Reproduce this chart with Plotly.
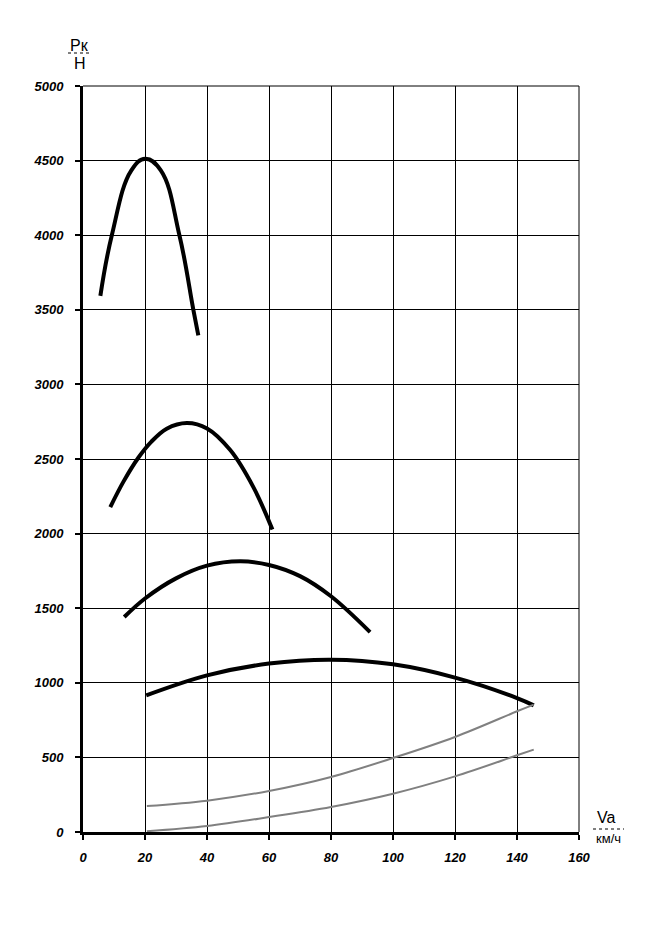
import plotly.graph_objects as go

# Traction force curves (gears 1..4), Pк in N vs Va in km/h
g1_x = [5.6, 9.3, 15.6, 20.1, 25.1, 31.1, 35.6, 37.2]
g1_y = [3593, 4000, 4435, 4513, 4435, 4000, 3500, 3329]

g2_x = [8.8, 13.1, 17.9, 22.0, 27.0, 33.5, 40.0, 47.5, 55.0, 61.1]
g2_y = [2178, 2350, 2510, 2615, 2703, 2741, 2705, 2560, 2310, 2027]

g3_x = [13.3, 20, 30, 40, 50.7, 60, 70, 80, 92.6]
g3_y = [1441, 1565, 1700, 1785, 1814, 1790, 1715, 1580, 1340]

g4_x = [20.4, 40, 60, 80, 100, 120, 140, 145.4]
g4_y = [916, 1050, 1129, 1155, 1124, 1035, 898, 849]

# Resistance curves (gray)
r1_x = [20.6, 40, 60, 80, 100, 120, 140, 145.4]
r1_y = [174, 210, 275, 369, 496, 637, 809, 854]

r2_x = [20.6, 40, 60, 80, 100, 120, 140, 145.4]
r2_y = [5, 40, 100, 168, 257, 373, 514, 552]

x_ticks = [0, 20, 40, 60, 80, 100, 120, 140, 160]
y_ticks = [0, 500, 1000, 1500, 2000, 2500, 3000, 3500, 4000, 4500, 5000]

# page is rendered with an 8px body margin
OFF = 8
W, H = 651 - OFF, 933 - OFF
L, R, T, B = 83, 579, 86, 832  # plot area in page pixels


def px(xp):
    return (xp - L) / (R - L)


def py(yp):
    return (B - yp) / (B - T)


FONT = "Arial, Liberation Sans, sans-serif"

fig = go.Figure()
for i, (xs, ys) in enumerate([(g1_x, g1_y), (g2_x, g2_y), (g3_x, g3_y), (g4_x, g4_y)]):
    fig.add_trace(go.Scatter(x=xs, y=ys, mode="lines",
                             line=dict(color="black", width=4, shape="spline",
                                       smoothing=1.2 if i == 0 else 1.0),
                             showlegend=False, hoverinfo="skip"))
for xs, ys in [(r1_x, r1_y), (r2_x, r2_y)]:
    fig.add_trace(go.Scatter(x=xs, y=ys, mode="lines",
                             line=dict(color="#808080", width=2, shape="spline", smoothing=1.0),
                             showlegend=False, hoverinfo="skip"))

tickfont = dict(family=FONT, size=13, color="black")
fig.update_xaxes(range=[0, 160], tickvals=x_ticks, ticktext=[f"<b><i>{v}</i></b>" for v in x_ticks],
                 showgrid=True, gridcolor="black", gridwidth=1, zeroline=False,
                 showline=True, linecolor="black", linewidth=3,
                 ticks="outside", ticklen=5, tickwidth=2, tickcolor="black",
                 ticklabelstandoff=6,
                 tickfont=tickfont, fixedrange=True)
fig.update_yaxes(range=[0, 5000], tickvals=y_ticks, ticktext=[f"<b><i>{v}</i></b>" for v in y_ticks],
                 showgrid=True, gridcolor="black", gridwidth=1, zeroline=False,
                 showline=True, linecolor="black", linewidth=3,
                 ticks="outside", ticklen=5, tickwidth=2, tickcolor="black",
                 ticklabelstandoff=9,
                 tickfont=tickfont, fixedrange=True)

ann_font = dict(family=FONT, size=16, color="black")
annotations = [
    dict(text="Pк", x=px(79), y=py(45)),
    dict(text="Н", x=px(80), y=py(63)),
    dict(text="Va", x=px(606), y=py(817)),
    dict(text="км/ч", x=px(608), y=py(838), font=dict(family=FONT, size=13, color="black")),
]
for a in annotations:
    a.setdefault("font", ann_font)
    a.update(xref="paper", yref="paper", showarrow=False, xanchor="center", yanchor="middle")

shapes = [
    dict(type="line", xref="paper", yref="paper", x0=px(68), x1=px(90), y0=py(53), y1=py(53),
         line=dict(color="black", width=1, dash="dot")),
    dict(type="line", xref="paper", yref="paper", x0=px(593), x1=px(624), y0=py(829), y1=py(829),
         line=dict(color="black", width=1, dash="dot")),
    dict(type="line", xref="paper", yref="paper", x0=0, x1=1, y0=1, y1=1, line=dict(color="black", width=1)),
    dict(type="line", xref="paper", yref="paper", x0=1, x1=1, y0=0, y1=1, line=dict(color="black", width=1)),
]

fig.update_layout(width=W, height=H, autosize=False,
                  margin=dict(l=L - OFF, r=W + OFF - R, t=T - OFF, b=H + OFF - B, pad=0),
                  paper_bgcolor="white", plot_bgcolor="white",
                  annotations=annotations, shapes=shapes, showlegend=False)

fig.write_html("out.html", config={"displayModeBar": False})
